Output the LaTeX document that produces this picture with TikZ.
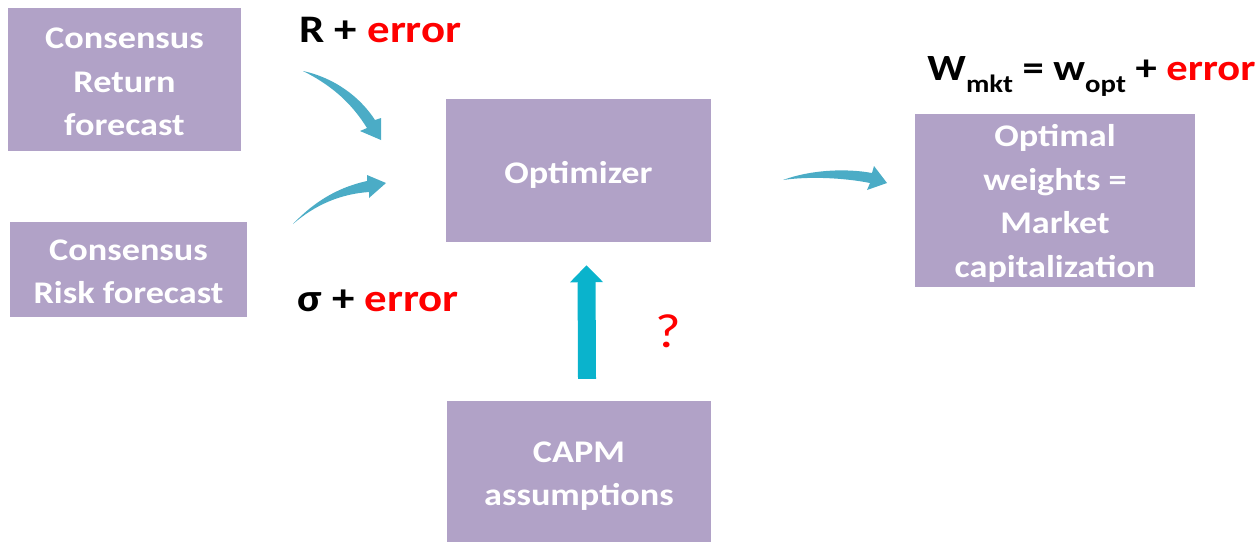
\documentclass[tikz,border=0pt]{standalone}
\usepackage{fontspec}
\setmainfont{Carlito}
\usepackage{graphicx}
\usetikzlibrary{arrows.meta}
\definecolor{boxfill}{HTML}{B1A2C7}
\definecolor{flowblue}{HTML}{4BACC6}
\definecolor{upcyan}{HTML}{0AB3CC}
\definecolor{errred}{HTML}{FF0000}
% slightly widened lettering
\newcommand{\wide}[1]{\scalebox{1.15}[1]{#1}}
\newcommand{\boxlines}[1]{\wide{\begin{tabular}{@{}c@{}}#1\end{tabular}}}
\newcommand{\lowsub}[1]{\raisebox{-12pt}{\fontsize{25}{25}\selectfont #1}}
\begin{document}
\begin{tikzpicture}[x=1pt,y=-1pt,
  box/.style={fill=boxfill, draw=none, inner sep=0pt},
  boxtext/.style={text=white, font=\bfseries\fontsize{31.5}{43.5}\selectfont, inner sep=0pt},
  lbl/.style={font=\bfseries\fontsize{39}{46}\selectfont, inner sep=0pt, anchor=base},
  flow/.style={fill=flowblue, draw=none}]
\useasboundingbox (0,0) rectangle (1258,542);

% blocks
\node[box, minimum width=233pt, minimum height=143pt] (ret)  at (124.5,79.5) {};
\node[box, minimum width=237pt, minimum height=95pt]  (risk) at (128.5,269.5) {};
\node[box, minimum width=265pt, minimum height=143pt] (opt)  at (578.5,170.5) {};
\node[box, minimum width=264pt, minimum height=141pt] (capm) at (579,471.5) {};
\node[box, minimum width=280pt, minimum height=173pt] (wts)  at (1055,200.5) {};

\node[boxtext] (ret-t)  at ([yshift=-4pt]ret.center)  {\boxlines{Consensus\\Return\\forecast}};
\node[boxtext] (risk-t) at ([yshift=-4pt]risk.center) {\boxlines{Consensus\\Risk forecast}};
\node[boxtext] (opt-t)  at ([yshift=-4pt]opt.center)  {\boxlines{Optimizer}};
\node[boxtext] (capm-t) at ([yshift=-4pt]capm.center) {\boxlines{CAPM\\assumptions}};
\node[boxtext] (wts-t)  at ([yshift=-3pt]wts.center)  {\boxlines{Optimal\\weights =\\Market\\capitalization}};

% input labels
\node[lbl] (rlab) at (380.5,42) {\wide{R + \textcolor{errred}{error}}};
\node[lbl] (slab) at (378,311.5) {\wide{σ + \textcolor{errred}{error}}};
\node[lbl, font=\bfseries\fontsize{37}{44}\selectfont] (wlab) at (1091.5,80)
  {\wide{W\lowsub{mkt} = w\lowsub{opt} + \textcolor{errred}{error}}};
\node[lbl, font=\fontsize{48}{54}\selectfont, text=errred] (qm) at (668,347) {\wide{?}};

% curved flow arrows
\fill[flow] (303,71) .. controls (335,78) and (360,97) .. (375,120)
  -- (381,118) -- (381,140) -- (360,131) -- (367,128)
  .. controls (352,104) and (333,86) .. (303,71) -- cycle;
\fill[flow] (293,224) .. controls (312,204) and (335,188) .. (367,181)
  -- (367,175) -- (386,183) -- (369,198) -- (369,192)
  .. controls (340,194) and (315,205) .. (293,224) -- cycle;
\fill[flow] (783,180) .. controls (810,170) and (845,168) .. (872,173)
  -- (874,166) -- (887,183) -- (867,190) -- (870,183)
  .. controls (845,178) and (810,176) .. (783,180) -- cycle;

% assumptions feeding the optimizer
\draw[upcyan, line width=18pt, -{Triangle[width=32pt,length=17pt]}]
  ([xshift=8pt,yshift=22pt]capm.north) -- ([xshift=8pt,yshift=-23pt]opt.south);
\end{tikzpicture}
\end{document}
